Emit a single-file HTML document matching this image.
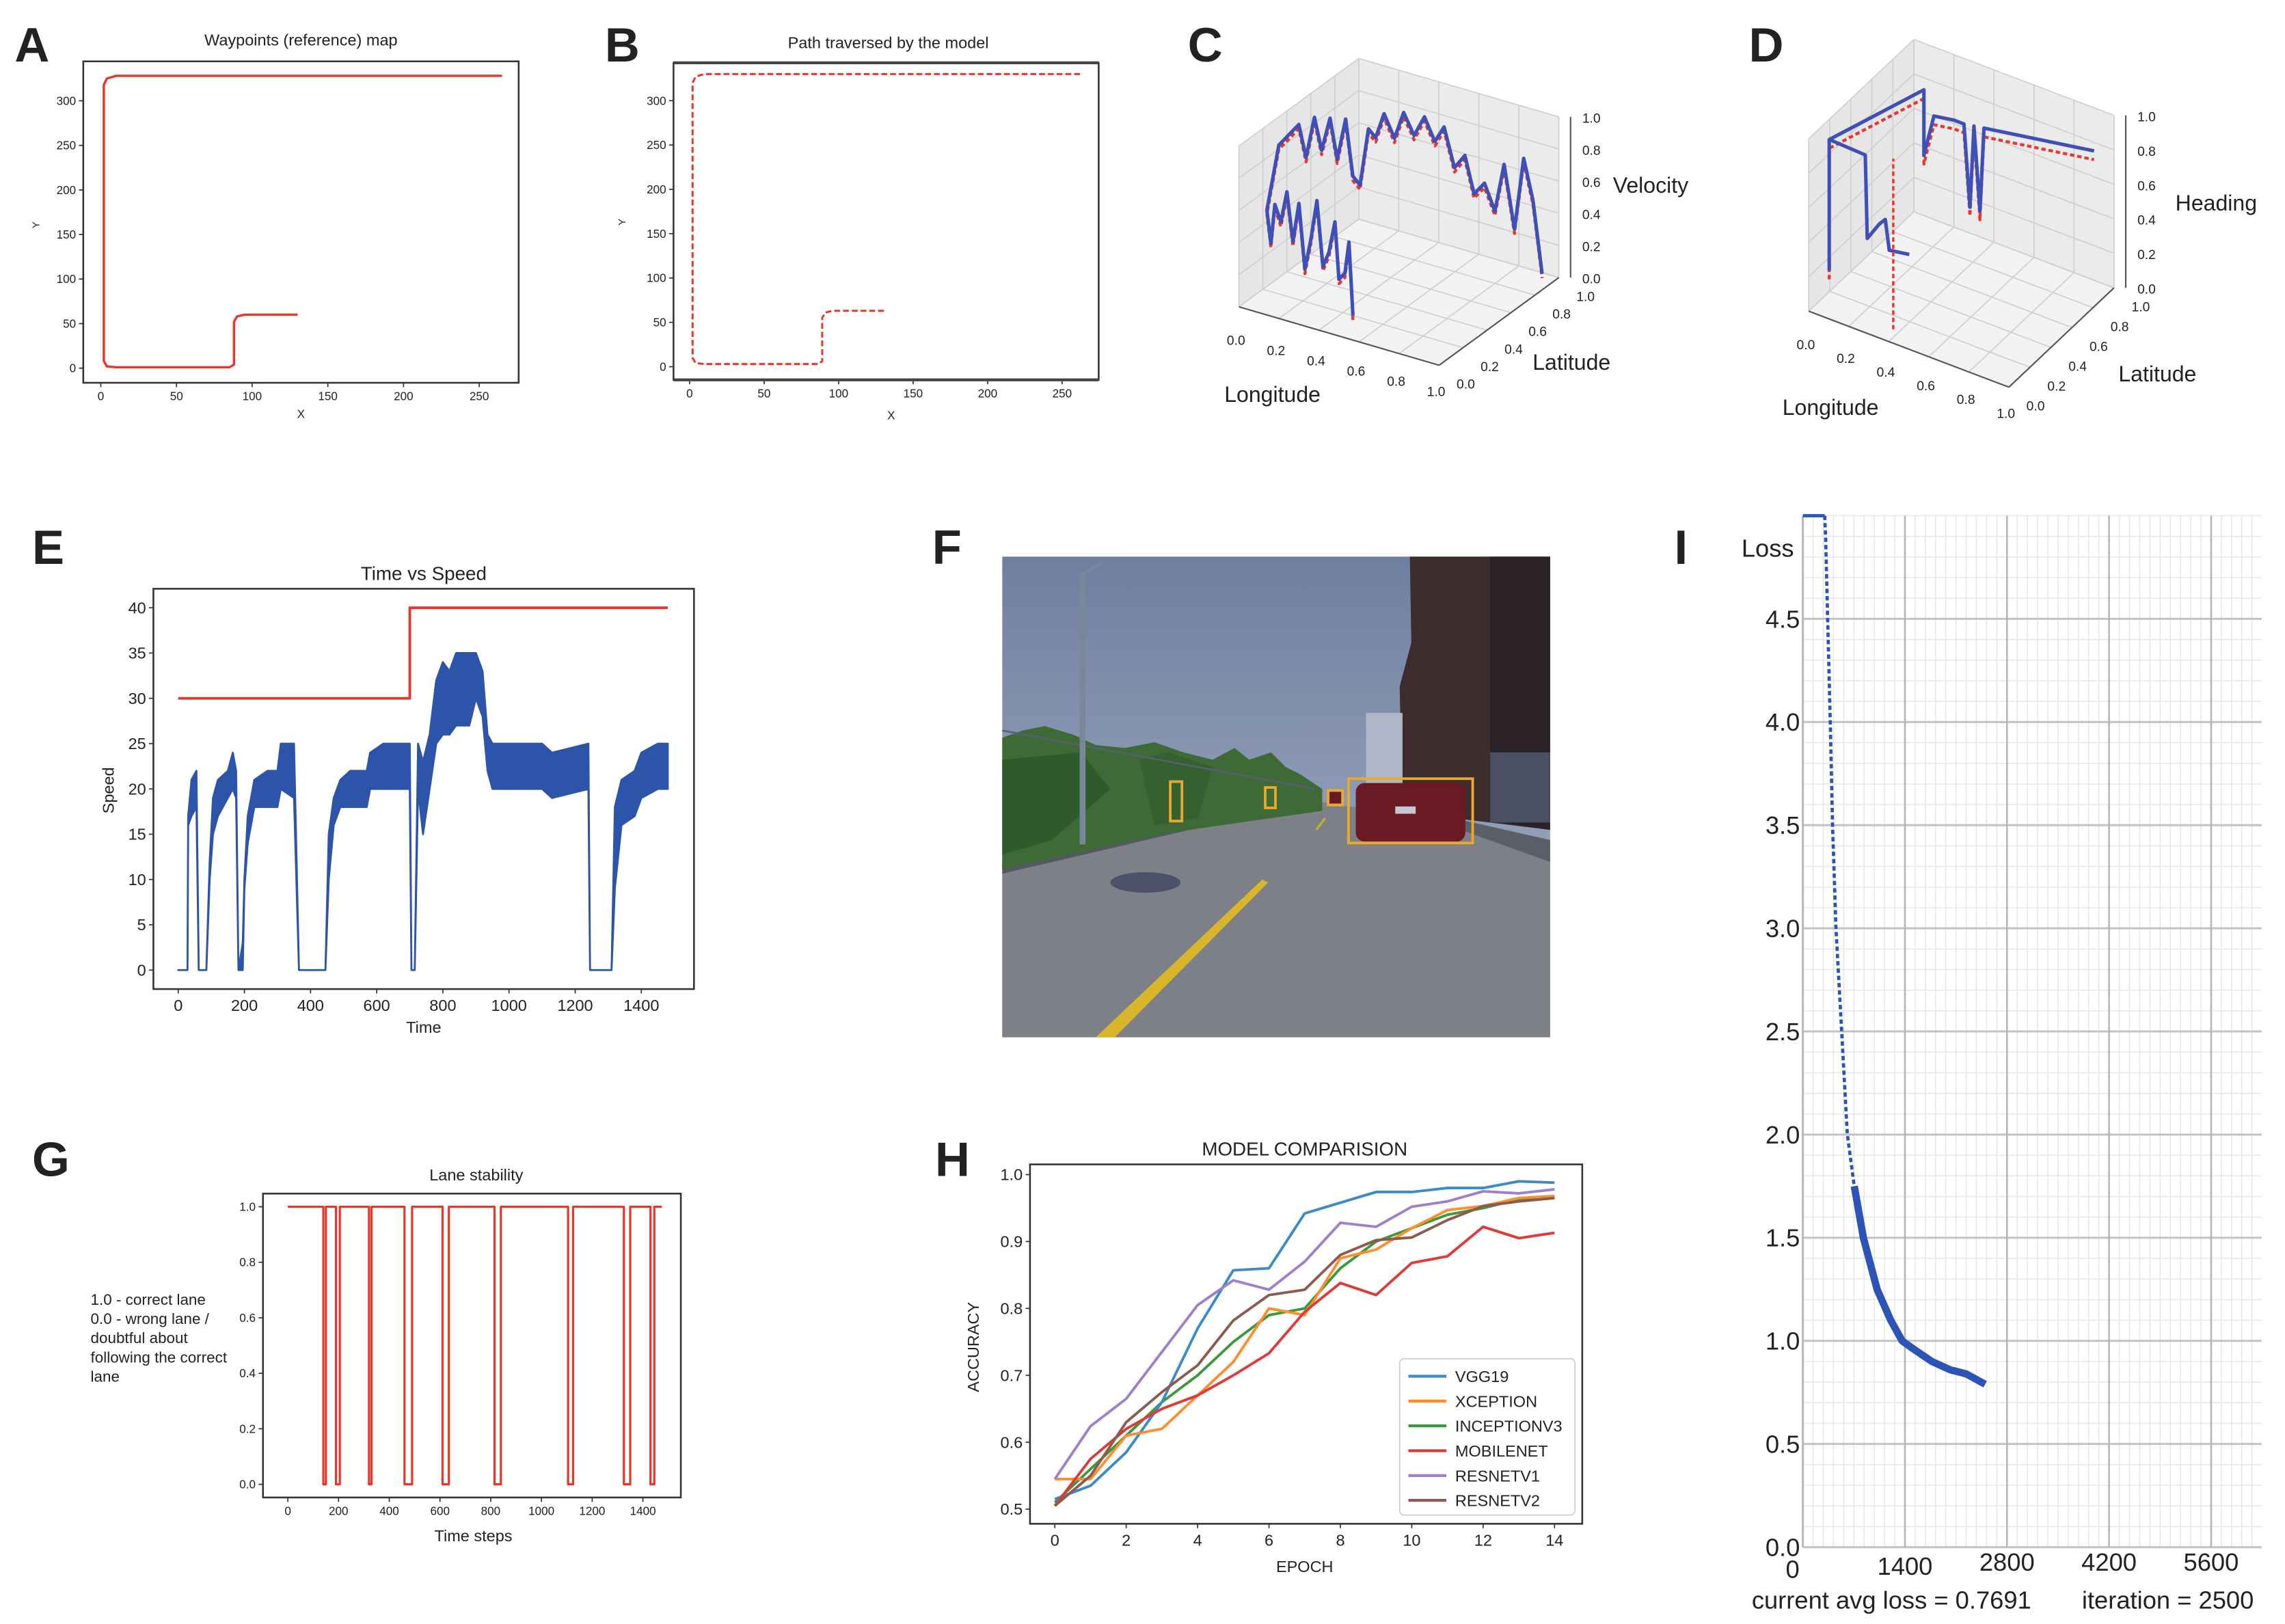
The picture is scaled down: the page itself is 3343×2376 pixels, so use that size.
<!DOCTYPE html>
<html><head><meta charset="utf-8">
<style>
html,body{margin:0;padding:0;background:#fff;}
svg{display:block;}
text{font-family:"Liberation Sans",sans-serif;fill:#222;}
</style></head>
<body>
<svg id="fig" xmlns="http://www.w3.org/2000/svg" width="3343" height="2376" viewBox="0 0 1564 1111.6">
<rect x="0" y="0" width="1564" height="1112" fill="#fff"/>
<g id="layer"></g>
</svg>
<script>
// ---------- DATA ----------
// A: reference waypoints
const wayX = [265,10,4,2,2,4,10,85,88,88,90,95,130];
const wayY = [328,328,325,318,8,2,1,1,4,52,58,60,60];
// B: traversed path
const pathX = [262,10,4,2,2,4,10,86,89,89,91,96,132];
const pathY = [330,330,327,320,10,4,3,3,6,55,61,63,63];
// C: velocity 3D
const cLon = [0.45,0.43,0.41,0.38,0.36,0.33,0.30,0.27,0.24,0.21,0.18,0.15,0.12,0.09,0.06,0.04,0.02,0.02,0.03,0.06,0.09,0.12,0.15,0.18,0.21,0.24,0.27,0.30,0.33,0.36,0.40,0.44,0.48,0.52,0.56,0.60,0.64,0.68,0.72,0.76,0.80,0.84,0.88,0.92,0.96,1.00];
const cLat = [0.20,0.20,0.20,0.20,0.20,0.20,0.20,0.20,0.20,0.20,0.20,0.20,0.20,0.20,0.20,0.20,0.20,0.30,0.45,0.46,0.48,0.49,0.51,0.52,0.54,0.55,0.56,0.58,0.59,0.61,0.63,0.64,0.66,0.68,0.70,0.71,0.73,0.75,0.76,0.78,0.80,0.81,0.83,0.84,0.85,0.86];
const cVel = [0.0,0.45,0.25,0.2,0.55,0.35,0.25,0.65,0.4,0.2,0.6,0.35,0.65,0.45,0.55,0.3,0.5,0.85,0.9,0.7,0.95,0.75,0.95,0.7,0.95,0.6,0.55,0.9,0.85,1.0,0.85,1.02,0.88,1.0,0.85,0.95,0.7,0.78,0.55,0.62,0.45,0.75,0.35,0.8,0.55,0.1];
// D: heading 3D
const dLon = [0.05,0.05,0.05,0.05,0.05,0.10,0.20,0.25,0.28,0.30,0.33,0.35,0.50,0.70,0.90];
const dLat = [0.10,0.10,0.10,1.00,1.00,1.00,1.00,1.00,1.00,1.00,1.00,1.00,1.00,1.00,1.00];
const dHead = [0.2,0.96,0.96,0.73,0.35,0.6,0.62,0.62,0.15,0.63,0.15,0.64,0.67,0.71,0.75];
const dBrLon = [0.05,0.23,0.24,0.30,0.33,0.35,0.45];
const dBrHead = [0.96,0.95,0.47,0.58,0.62,0.45,0.47];
// E: speed envelope
const speedT = [0,28,30,40,55,62,85,95,105,120,150,165,175,182,195,200,210,230,270,300,310,350,365,445,455,470,490,520,570,580,620,700,705,715,725,740,760,780,800,820,840,860,880,900,920,935,950,1100,1130,1240,1245,1310,1320,1340,1380,1400,1450,1480];
const speedLo = [0,0,16,17,18,0,0,10,15,17,19,20,19,0,0,9,14,18,18,18,20,19,0,0,10,16,18,18,18,20,20,20,0,0,20,15,20,25,26,26,27,27,27,30,28,22,20,20,19,20,0,0,9,16,17,19,20,20];
const speedHi = [0,0,17,21,22,0,0,12,19,21,22,24,22,0,3,10,17,21,22,22,25,25,0,0,15,19,21,22,22,24,25,25,0,0,25,23,26,32,34,33,35,35,35,35,33,26,25,25,24,25,0,0,18,21,22,24,25,25];
const targetT = [0,700,700,1480];
const targetV = [30,30,40,40];
// G: lane stability drops [start,end]
const laneStart = [140,190,320,460,610,815,1105,1325,1430];
const laneEnd = [150,205,330,490,635,840,1125,1350,1445];
// H: model comparison
const epochs = [0,1,2,3,4,5,6,7,8,9,10,11,12,13,14];
const modelNames = ["VGG19","XCEPTION","INCEPTIONV3","MOBILENET","RESNETV1","RESNETV2"];
const accVGG19 = [.515,.535,.585,.66,.77,.857,.86,.942,.958,.974,.974,.98,.98,.99,.988];
const accXception = [.545,.545,.61,.62,.67,.72,.80,.79,.875,.888,.92,.947,.953,.965,.968];
const accInception = [.51,.56,.61,.66,.70,.75,.79,.80,.86,.90,.92,.94,.95,.963,.968];
const accMobile = [.505,.575,.62,.65,.67,.70,.733,.795,.838,.82,.868,.878,.922,.905,.913];
const accResV1 = [.545,.624,.665,.735,.805,.842,.828,.87,.928,.922,.952,.96,.975,.972,.978];
const accResV2 = [.505,.55,.63,.675,.715,.782,.82,.828,.88,.902,.906,.932,.953,.96,.965];
// I: loss curve
const lossIter = [-30,300,312,340,376,407,454,532,610,705,830,1018,1205,1362,1519,1770,2020,2240,2500];
const lossVal = [5.0,5.0,4.9,4.5,4.0,3.5,3.0,2.5,2.0,1.75,1.5,1.25,1.1,1.0,0.96,0.9,0.86,0.84,0.79];
const lossYTicks = ["0.0","0.5","1.0","1.5","2.0","2.5","3.0","3.5","4.0","4.5"];
const lossXTicks = ["0","1400","2800","4200","5600"];

// ---------- HELPERS ----------
const NS = "http://www.w3.org/2000/svg";
const layer = document.getElementById("layer");
function mk(tag, attrs, parent) {
  const e = document.createElementNS(NS, tag);
  for (const k in attrs) e.setAttribute(k, attrs[k]);
  (parent || layer).appendChild(e);
  return e;
}
function txt(x, y, s, size, anchor, parent, extra) {
  const t = mk("text", Object.assign({x:x, y:y, "font-size":size, "text-anchor":anchor||"middle"}, extra||{}), parent);
  t.textContent = s;
  return t;
}
function poly(pts, stroke, w, parent, dash) {
  const a = {points: pts.map(p => p[0].toFixed(2)+","+p[1].toFixed(2)).join(" "), fill:"none", stroke:stroke, "stroke-width":w, "stroke-linejoin":"round"};
  if (dash) a["stroke-dasharray"] = dash;
  return mk("polyline", a, parent);
}

// panel letters
[["A",10,42],["B",414,42],["C",813,42],["D",1197,42],["E",22,386],["F",638,386],["I",1146,386],["G",22,805],["H",640,805]].forEach(l => {
  const t = txt(l[1], l[2], l[0], 33, "start", null, {"font-weight":"bold", fill:"#111"});
  
  
});

// ---------- 2D axes helper ----------
function axes2d(g, box, xTicks, xFn, yTicks, yFn, fs, yDec) {
  const r = mk("rect", {x:box[0], y:box[1], width:box[2]-box[0], height:box[3]-box[1], fill:"none", stroke:"#333", "stroke-width":1.2}, g);
  
  
  xTicks.forEach(v => {
    const x = xFn(v);
    mk("line", {x1:x, y1:box[3], x2:x, y2:box[3]+3, stroke:"#333", "stroke-width":0.8}, g);
    const t = txt(x, box[3]+fs+4, String(v), fs, "middle", g);
    
    
  });
  yTicks.forEach(v => {
    const y = yFn(v);
    mk("line", {x1:box[0]-3, y1:y, x2:box[0], y2:y, stroke:"#333", "stroke-width":0.8}, g);
    const t = txt(box[0]-5, y+fs*0.35, yDec ? v.toFixed(yDec) : String(v), fs, "end", g);
    
    
  });
}

// ---------- A ----------
(function(){
  const g = mk("g", {});  
  const box = [57,42,355,262];
  const X = v => 69 + v*1.036, Y = v => 252 - v*0.61;
  axes2d(g, box, [0,50,100,150,200,250], X, [0,50,100,150,200,250,300], Y, 8);
  txt(206,31,"Waypoints (reference) map",11,"middle",g);
  txt(206,286,"X",8,"middle",g);
  txt(27,154,"Y",7,"middle",g,{transform:"rotate(-90 27 154)"});
  const l = poly(wayX.map((v,i)=>[X(v),Y(wayY[i])]), "#e8362b", 1.6, g);
  
  
})();

// ---------- B ----------
(function(){
  const g = mk("g", {});  
  const box = [461,43,752,260];
  const X = v => 472 + v*1.02, Y = v => 251 - v*0.607;
  axes2d(g, box, [0,50,100,150,200,250], X, [0,50,100,150,200,250,300], Y, 8);
  mk("line",{x1:461,y1:43,x2:752,y2:43,stroke:"#444","stroke-width":2},g);
  mk("line",{x1:461,y1:260,x2:752,y2:260,stroke:"#444","stroke-width":2},g);
  txt(608,33,"Path traversed by the model",11,"middle",g);
  txt(610,287,"X",8,"middle",g);
  txt(428,152,"Y",7,"middle",g,{transform:"rotate(-90 428 152)"});
  const l = poly(pathX.map((v,i)=>[X(v),Y(pathY[i])]), "#e8362b", 1.4, g, "4,2");
  
  
})();

// ---------- 3D helper ----------
function panel3d(g, P, zlabel, zlx, zly, latlx, latly, lonlx, lonly) {
  const pane = (pts, fill) => mk("polygon", {points: pts.map(p=>p.join(",")).join(" "), fill:fill, stroke:"none"}, g);
  pane([P(0,0,0),P(1,0,0),P(1,1,0),P(0,1,0)], "#f2f2f2");
  pane([P(0,0,0),P(0,1,0),P(0,1,1),P(0,0,1)], "#e6e6e6");
  pane([P(0,1,0),P(1,1,0),P(1,1,1),P(0,1,1)], "#ebebeb");
  const gl = (a,b) => mk("line", {x1:a[0],y1:a[1],x2:b[0],y2:b[1],stroke:"#cfcfcf","stroke-width":0.8}, g);
  for (let i=0;i<=5;i++){ const t=i/5;
    gl(P(t,0,0),P(t,1,0)); gl(P(0,t,0),P(1,t,0));
    gl(P(0,t,0),P(0,t,1)); gl(P(0,0,t),P(0,1,t));
    gl(P(t,1,0),P(t,1,1)); gl(P(0,1,t),P(1,1,t));
  }
  const ax = (a,b) => mk("line", {x1:a[0],y1:a[1],x2:b[0],y2:b[1],stroke:"#555","stroke-width":1}, g);
  ax(P(0,0,0),P(1,0,0)); ax(P(1,0,0),P(1,1,0)); ax(P(1,1,0).map((v,i)=>v+(i?0:8)),P(1,1,1).map((v,i)=>v+(i?0:8)));
  for (let i=0;i<=5;i++){ const t=i/5, s=(t).toFixed(1);
    let p=P(t,0,0); txt(p[0]-2,p[1]+26-i*1,s,9,"middle",g,{fill:"#444"});
    p=P(1,t,0); txt(p[0]+12,p[1]+16,s,9,"start",g,{fill:"#444"});
    p=P(1,1,t); txt(p[0]+16,p[1]+4,s,9,"start",g,{fill:"#444"});
  }
  txt(lonlx,lonly,"Longitude",15,"start",g);
  txt(latlx,latly,"Latitude",15,"start",g);
  txt(zlx,zly,zlabel,15,"start",g);
}

// ---------- C ----------
(function(){
  const g = mk("g", {});  
  const P = (lon,lat,z) => [848+137*lon+82*lat, 210+40*lon-60*lat-110*z];
  panel3d(g, P, "Velocity", 1104, 132, 1049, 253, 838, 275);
  const pts = cLon.map((v,i)=>P(v,cLat[i],cVel[i]));
  const r = poly(pts.map(p=>[p[0],p[1]+3]), "#e8362b", 2, g, "3,2"); 
  const b = poly(pts, "#3f4fb8", 2.4, g); 
})();

// ---------- D ----------
(function(){
  const g = mk("g", {});  
  const P = (lon,lat,z) => [1238+137*lon+72*lat, 213+52*lon-68*lat-118*z];
  panel3d(g, P, "Heading", 1489, 144, 1450, 261, 1220, 284);
  const pts = dLon.map((v,i)=>P(v,dLat[i],dHead[i]));
  const r = poly(pts.map(p=>[p[0],p[1]+6]), "#e8362b", 2, g, "3,2"); 
  const b = poly(pts, "#3f4fb8", 2.4, g); 
  const br = poly(dBrLon.map((v,i)=>P(v,0.1,dBrHead[i])), "#3f4fb8", 2.4, g); 
  const rv = poly([P(0.37,0.1,0.0),P(0.37,0.1,0.99)], "#e8362b", 1.6, g, "3,2"); 
})();

// ---------- E ----------
(function(){
  const g = mk("g", {});  
  const box = [105,403,475,677];
  const X = v => 122 + v*0.2264, Y = v => 664 - v*6.2;
  axes2d(g, box, [0,200,400,600,800,1000,1200,1400], X, [0,5,10,15,20,25,30,35,40], Y, 11);
  txt(290,397,"Time vs Speed",13,"middle",g);
  txt(290,707,"Time",11,"middle",g);
  txt(78,541,"Speed",11,"middle",g,{transform:"rotate(-90 78 541)"});
  const hi = speedT.map((t,i)=>[X(t),Y(speedHi[i])]);
  const lo = speedT.map((t,i)=>[X(t),Y(speedLo[i])]).reverse();
  const band = mk("polygon",{points:hi.concat(lo).map(p=>p.join(",")).join(" "),fill:"#2c54a8",stroke:"#2c54a8","stroke-width":1.3,"stroke-linejoin":"round"},g);
  
  
  const tl = poly(targetT.map((t,i)=>[X(t),Y(targetV[i])]), "#e8362b", 1.8, g);
  
  
})();

// ---------- F (camera image) ----------
(function(){
  const g = mk("g", {});  
  const defs = mk("defs",{},g);
  const lg = mk("linearGradient",{id:"sky",x1:0,y1:0,x2:0,y2:1},defs);
  mk("stop",{offset:"0",  "stop-color":"#6f7f9f"},lg); mk("stop",{offset:"1","stop-color":"#a9b4c8"},lg);
  mk("rect",{x:686,y:381,width:375,height:329,fill:"url(#sky)"},g);
  mk("polygon",{points:"686,590 900,548 1061,575 1061,710 686,710",fill:"#7e8087"},g);
  mk("polygon",{points:"686,588 900,548 686,598",fill:"#55585e"},g);
  mk("polygon",{points:"995,560 1061,575 1061,590 1000,568",fill:"#5b5e66"},g);
  mk("polygon",{points:"686,505 700,500 715,497 735,503 750,510 770,512 790,508 810,515 830,520 845,512 855,520 870,515 880,525 890,530 905,540 905,555 800,570 686,595",fill:"#3e6a36"},g);
  mk("polygon",{points:"686,520 740,515 760,540 720,575 686,585",fill:"#2f5a2c"},g);
  mk("polygon",{points:"780,520 800,515 830,525 820,560 790,565",fill:"#34612f"},g);
  mk("line",{x1:686,y1:500,x2:900,y2:540,stroke:"#566070","stroke-width":1.2},g);
  mk("polygon",{points:"965,381 1061,381 1061,568 995,560 960,555 958,470 966,440",fill:"#3d2c2e"},g);
  mk("polygon",{points:"1020,381 1061,381 1061,568 1020,562",fill:"#2a2226"},g);
  mk("rect",{x:1020,y:515,width:41,height:48,fill:"#4a4f63"},g);
  mk("rect",{x:935,y:488,width:25,height:65,fill:"#aeb6c7"},g);
  mk("rect",{x:739,y:392,width:4,height:186,fill:"#7c8699"},g);
  mk("line",{x1:741,y1:393,x2:754,y2:385,stroke:"#7c8699","stroke-width":2},g);
  mk("ellipse",{cx:784,cy:604,rx:24,ry:7,fill:"#4b526a"},g);
  mk("polygon",{points:"750,710 763,710 868,604 864,602",fill:"#d9b52a"},g);
  mk("line",{x1:901,y1:568,x2:907,y2:560,stroke:"#c9aa3a","stroke-width":1.5},g);
  mk("rect",{x:928,y:536,width:75,height:40,rx:6,fill:"#6a1a22"},g);
  mk("rect",{x:955,y:552,width:14,height:5,fill:"#c8c8d0"},g);
  mk("rect",{x:910,y:542,width:8,height:8,fill:"#6a1a22"},g);
  const boxes = [[923,533,85,44],[801,535,8,27],[866,539,7,14],[909,541,10,10]];
  boxes.forEach(b => {
    const r = mk("rect",{x:b[0],y:b[1],width:b[2],height:b[3],fill:"none",stroke:"#e8a92c","stroke-width":1.8},g);
    
    
  });
})();

// ---------- G ----------
(function(){
  const g = mk("g", {});  
  const box = [180,817,466,1025];
  const X = v => 197 + v*0.1736, Y = v => 1016 - v*190;
  axes2d(g, box, [0,200,400,600,800,1000,1200,1400], X, [0.0,0.2,0.4,0.6,0.8,1.0], Y, 8, 1);
  txt(326,808,"Lane stability",11,"middle",g);
  txt(324,1055,"Time steps",11,"middle",g);
  ["1.0 - correct lane","0.0 - wrong lane /","doubtful about","following the correct","lane"].forEach((s,i)=>{
    txt(62,893+i*13.2,s,10.5,"start",g);
  });
  const pts = [[X(0),Y(1)]];
  laneStart.forEach((s,i)=>{ pts.push([X(s),Y(1)],[X(s),Y(0)],[X(laneEnd[i]),Y(0)],[X(laneEnd[i]),Y(1)]); });
  pts.push([X(1475),Y(1)]);
  const l = poly(pts, "#e8362b", 1.5, g);
  
  
})();

// ---------- H ----------
(function(){
  const g = mk("g", {});  
  const box = [705,797,1083,1043];
  const X = v => 722 + v*24.43, Y = v => 1033 - (v-0.5)*458;
  axes2d(g, box, [0,2,4,6,8,10,12,14], X, [0.5,0.6,0.7,0.8,0.9,1.0], Y, 11, 1);
  txt(893,791,"MODEL COMPARISION",13,"middle",g);
  txt(893,1076,"EPOCH",11,"middle",g);
  txt(670,922,"ACCURACY",11,"middle",g,{transform:"rotate(-90 670 922)"});
  const series = [accVGG19, accXception, accInception, accMobile, accResV1, accResV2];
  const colors = ["#3b8bc8","#ff8c2e","#3a9a3a","#e03a36","#9e7fcb","#8c5a4e"];
  const order = [2,0,1,3,5,4];
  order.forEach(i => {
    const l = poly(epochs.map((e,j)=>[X(e),Y(series[i][j])]), colors[i], 1.8, g);
    
    
  });
  const lb = mk("rect",{x:958,y:930,width:120,height:107,rx:3,fill:"#fff","fill-opacity":0.85,stroke:"#ccc","stroke-width":0.8},g);
   
  modelNames.forEach((n,i)=>{
    const y = 942 + i*17;
    mk("line",{x1:964,y1:y,x2:990,y2:y,stroke:colors[i],"stroke-width":2},g);
    const t = txt(996,y+4,n,11,"start",g);
    
    
  });
})();

// ---------- I ----------
(function(){
  const g = mk("g", {});  
  const X = v => 1234 + v*0.0499, Y = v => 1059 - v*141.2;
  const x0 = 1234, x1 = 1548, yTop = Y(5.0), yBot = Y(0);
  for (let v=0; v<=5.001; v+=0.1) mk("line",{x1:x0,y1:Y(v),x2:x1,y2:Y(v),stroke:"#e6e6e6","stroke-width":0.7},g);
  for (let v=0; v<=6300; v+=140) if (X(v)<=x1) mk("line",{x1:X(v),y1:yTop,x2:X(v),y2:yBot,stroke:"#e6e6e6","stroke-width":0.7},g);
  lossYTicks.forEach((s,i)=>{
    const y = Y(parseFloat(s));
    mk("line",{x1:x0,y1:y,x2:x1,y2:y,stroke:"#c2c2c2","stroke-width":1.4},g);
    const t = txt(1232,y+6,s,17,"end",g,{fill:"#333"});
     
  });
  lossXTicks.forEach((s,i)=>{
    const x = X(parseFloat(s));
    mk("line",{x1:x,y1:yTop,x2:x,y2:yBot,stroke:"#b5b5b5","stroke-width":1.2},g);
    const t = txt(i===0 ? x-7 : x, i===0 ? 1080 : (i===1 ? 1078 : 1075), s, 17, "middle", g, {fill:"#333"});
     
  });
  mk("line",{x1:x0,y1:yTop,x2:x0,y2:yBot,stroke:"#bbb","stroke-width":1.5},g);
  txt(1192,381,"Loss",17,"start",g,{fill:"#333"});
  txt(1199,1101,"current avg loss = 0.7691",17,"start",g,{fill:"#333"});
  txt(1425,1101,"iteration = 2500",17,"start",g,{fill:"#333"});
  const pts = lossIter.map((v,i)=>[Math.max(X(v),x0),Y(lossVal[i])]);
  const top = poly(pts.slice(0,2), "#2c54b8", 2.2, g);
  
  
  const l = poly(pts.slice(1), "#2c54b8", 2.2, g, "3,2");
  
  
  const l2 = poly(pts.slice(9), "#2c54b8", 5, g);
  
  
})();
</script>
</body></html>
